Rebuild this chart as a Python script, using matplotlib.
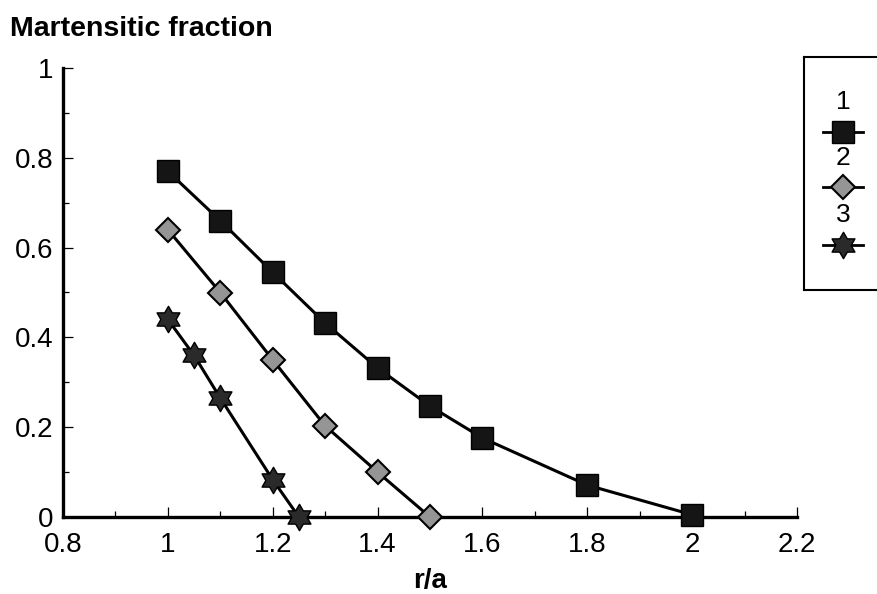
import matplotlib
matplotlib.use("Agg")
import matplotlib.pyplot as plt
from matplotlib.ticker import MultipleLocator, FixedLocator
from matplotlib.path import Path

plt.rcParams['font.family'] = ['Liberation Sans', 'DejaVu Sans']

# Data
x1 = [1.0, 1.1, 1.2, 1.3, 1.4, 1.5, 1.6, 1.8, 2.0]
y1 = [0.77, 0.66, 0.545, 0.432, 0.332, 0.247, 0.176, 0.071, 0.005]
x2 = [1.0, 1.1, 1.2, 1.3, 1.4, 1.5]
y2 = [0.64, 0.50, 0.35, 0.203, 0.10, 0.0]
x3 = [1.0, 1.05, 1.1, 1.2, 1.25]
y3 = [0.44, 0.36, 0.265, 0.083, 0.0]
series_labels = ['1', '2', '3']
xticks = [0.8, 1.0, 1.2, 1.4, 1.6, 1.8, 2.0, 2.2]
xtick_labels = ['0.8', '1', '1.2', '1.4', '1.6', '1.8', '2', '2.2']
yticks = [0, 0.2, 0.4, 0.6, 0.8, 1.0]
ytick_labels = ['0', '0.2', '0.4', '0.6', '0.8', '1']

W, H = 877, 594
fig = plt.figure(figsize=(W/100, H/100), dpi=100)
ax = fig.add_axes([63/W, 1-517/H, (797-63)/W, (517-68)/H])

hexagram = Path.unit_regular_star(6, innerCircle=0.58)
styles = [
    dict(marker='s', markersize=16, markerfacecolor='#151515', markeredgecolor='#000000'),
    dict(marker='D', markersize=12.5, markerfacecolor='#959595', markeredgecolor='#000000', markeredgewidth=1.5),
    dict(marker=hexagram, markersize=19, markerfacecolor='#2a2a2a', markeredgecolor='#000000', markeredgewidth=1.0),
]
for (xs, ys), st in zip([(x1, y1), (x2, y2), (x3, y3)], styles):
    ax.plot(xs, ys, color='black', linewidth=2.2, clip_on=False, zorder=3, **st)

ax.set_xlim(0.8, 2.2)
ax.set_ylim(0, 1)
ax.spines['top'].set_visible(False)
ax.spines['right'].set_visible(False)
for s in ['left', 'bottom']:
    ax.spines[s].set_linewidth(2.4)
ax.xaxis.set_major_locator(FixedLocator(xticks))
ax.set_xticklabels(xtick_labels)
ax.yaxis.set_major_locator(FixedLocator(yticks))
ax.set_yticklabels(ytick_labels)
ax.xaxis.set_minor_locator(MultipleLocator(0.1))
ax.yaxis.set_minor_locator(MultipleLocator(0.1))
ax.tick_params(which='both', direction='in', width=0.9, labelsize=20)
ax.tick_params(axis='x', pad=11)
ax.tick_params(axis='y', pad=7)
ax.tick_params(which='major', length=7.5)
ax.tick_params(which='minor', length=4.5)
ax.set_xlabel('r/a', fontsize=20, fontweight='bold', labelpad=7)
fig.text(10/W, 1-29/H, 'Martensitic fraction', fontsize=20.5, fontweight='bold', va='center', ha='left')

# Legend panel
lx0, ly0, ly1 = 804, 57, 290
lax = fig.add_axes([lx0/W, 1-ly1/H, (W-lx0+20)/W, (ly1-ly0)/H])
lax.set_xlim(lx0, W+20)
lax.set_ylim(ly1, ly0)
lax.set_xticks([]); lax.set_yticks([])
for s in lax.spines.values():
    s.set_linewidth(1.5)
label_y = [102, 158, 215]
mark_y = [132, 187, 245]
for lab, ty, my, st in zip(series_labels, label_y, mark_y, styles):
    lax.text(843, ty, lab, fontsize=19, ha='center', va='center')
    lax.plot([823, 863], [my, my], color='black', linewidth=2.0)
    lax.plot([843], [my], linestyle='none', **st)

fig.savefig('out.png', dpi=100)
